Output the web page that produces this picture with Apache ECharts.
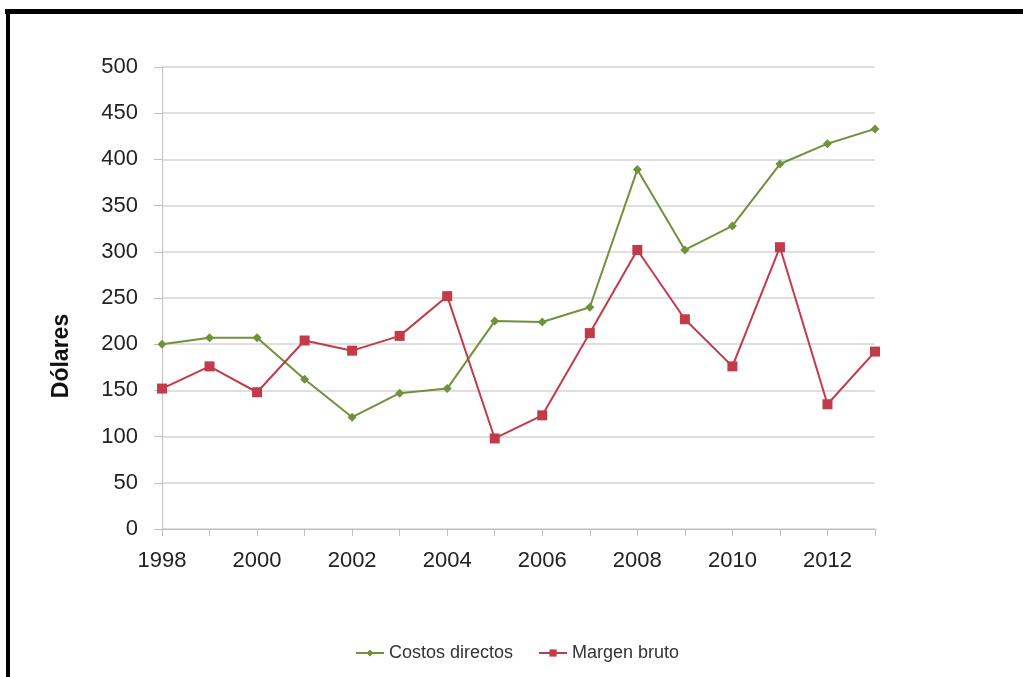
<!DOCTYPE html>
<html>
<head>
<meta charset="utf-8">
<script src="https://cdn.jsdelivr.net/npm/echarts@6/dist/echarts.min.js"></script>
<style>
html,body{margin:0;padding:0;background:#fff;}
#chart{width:1023px;height:677px;}
</style>
</head>
<body>
<div id="chart"></div>
<script>
const years = ['1998','1999','2000','2001','2002','2003','2004','2005','2006','2007','2008','2009','2010','2011','2012','2013'];
const costosDirectos = [200, 207, 207, 162, 121, 147, 152, 225, 224, 240, 389, 302, 328, 395, 417, 433];
const margenBruto = [152, 176, 148, 204, 193, 209, 252, 98, 123, 212, 302, 227, 176, 305, 135, 192];
const seriesNames = ['Costos directos', 'Margen bruto'];
const yAxisTitle = 'Dólares';

const chart = echarts.init(document.getElementById('chart'));
const green = '#71913A';
const red = '#C23B4B';
const font = 'Liberation Sans, Arial, sans-serif';
chart.setOption({
  animation: false,
  backgroundColor: '#fff',
  textStyle: { fontFamily: font },
  grid: { left: 162, right: 148, top: 67, bottom: 148, containLabel: false },
  xAxis: {
    type: 'category',
    data: years,
    boundaryGap: false,
    axisLine: { lineStyle: { color: '#bfbfbf', width: 1 } },
    axisTick: { show: true, interval: 0, length: 7, lineStyle: { color: '#bfbfbf' } },
    axisLabel: { interval: 1, color: '#222', fontSize: 22, margin: 21 },
    splitLine: { show: false }
  },
  yAxis: {
    type: 'value',
    min: 0, max: 500, interval: 50,
    axisLine: { show: true, lineStyle: { color: '#bfbfbf', width: 1 } },
    axisTick: { show: true, length: 8, lineStyle: { color: '#bfbfbf' } },
    axisLabel: { color: '#222', fontSize: 22, margin: 24 },
    splitLine: { lineStyle: { color: '#d4d4d4', width: 1.5 } }
  },
  legend: {
    top: 639,
    left: 350,
    itemWidth: 28,
    itemHeight: 9,
    itemGap: 25,
    textStyle: { fontSize: 18, color: '#333' },
    data: seriesNames
  },
  graphic: [
    { type: 'rect', shape: { x: 5, y: 9, width: 1018, height: 5 }, style: { fill: '#000' }, z: 100 },
    { type: 'rect', shape: { x: 6, y: 9, width: 4, height: 668 }, style: { fill: '#000' }, z: 100 },
    { type: 'text', x: 62, y: 356, rotation: Math.PI / 2,
      style: { text: yAxisTitle, fontSize: 23, fontWeight: 'bold', fill: '#111',
               fontFamily: font, align: 'center', verticalAlign: 'middle' } }
  ],
  series: [
    { name: seriesNames[0], type: 'line', data: costosDirectos,
      symbol: 'diamond', symbolSize: 9,
      lineStyle: { color: green, width: 2 }, itemStyle: { color: green } },
    { name: seriesNames[1], type: 'line', data: margenBruto,
      symbol: 'rect', symbolSize: 10,
      lineStyle: { color: red, width: 2 }, itemStyle: { color: red } }
  ]
});
</script>
</body>
</html>
